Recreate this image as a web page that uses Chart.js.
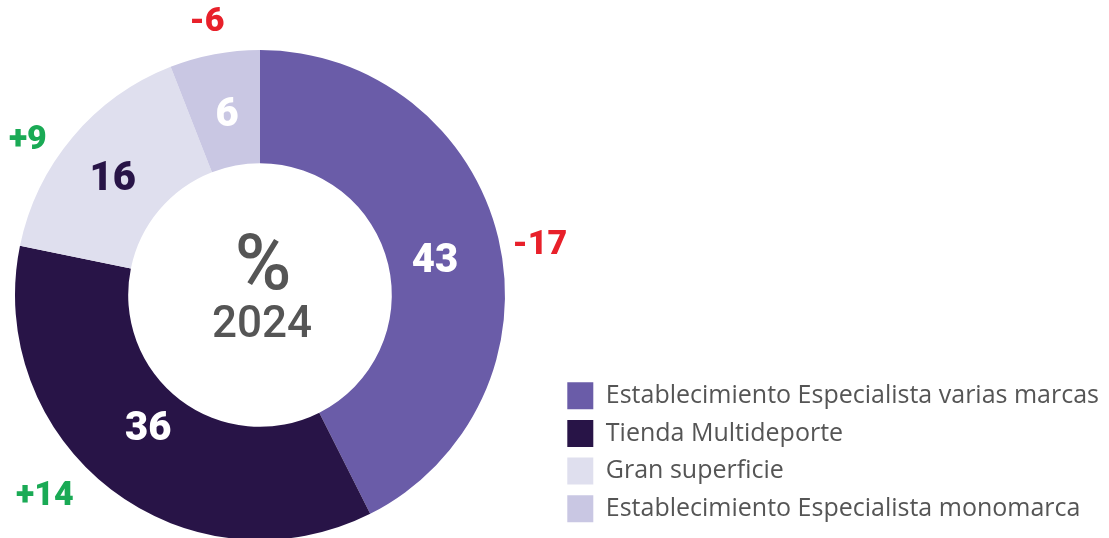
<!DOCTYPE html>
<html>
<head>
<meta charset="utf-8">
<script src="https://cdn.jsdelivr.net/npm/chart.js@4.4.1/dist/chart.umd.min.js"></script>
<style>
  html, body { margin: 0; padding: 0; background: #ffffff; }
  #wrap { width: 1109px; height: 538px; }
</style>
</head>
<body>
<div id="wrap"><canvas id="c" width="1109" height="538"></canvas></div>
<script>
// ---- data ----
const categories = [
  'Establecimiento Especialista varias marcas',
  'Tienda Multideporte',
  'Gran superficie',
  'Establecimiento Especialista monomarca'
];
const shares2024 = [43, 36, 16, 6];
const changeLabels = ['-17', '+14', '+9', '-6'];
const centerUnit = '%';
const centerYear = '2024';

// ---- styles ----
const sliceColors = ['#6a5ca8', '#281447', '#dfdfee', '#c9c7e3'];
const insideTextColors = ['#ffffff', '#ffffff', '#281447', '#ffffff'];
const changeColors = ['#e8202a', '#1aaa55', '#1aaa55', '#e8202a'];
// placement tweaks (radius factor of outer radius, angle shift in degrees)
const insidePlace = [[0.727, 2.7], [0.714, 2.3], [0.763, -2.1], [0.743, 0.3]];
const outsidePlace = [[1.16, 3.3], [1.204, 9.4], [1.139, -6.4], [1.135, -0.3]];

const doughnutArea = { left: 15, top: 50, right: 505, bottom: 540 };

const areaPlugin = {
  id: 'areaPlugin',
  afterLayout(chart) {
    const a = chart.chartArea;
    a.left = doughnutArea.left; a.top = doughnutArea.top;
    a.right = doughnutArea.right; a.bottom = doughnutArea.bottom;
    a.width = a.right - a.left; a.height = a.bottom - a.top;
  }
};

function polar(arc, rFactor, shiftDeg) {
  const mid = (arc.startAngle + arc.endAngle) / 2 + shiftDeg * Math.PI / 180;
  const r = arc.outerRadius * rFactor;
  return { x: arc.x + Math.cos(mid) * r, y: arc.y + Math.sin(mid) * r };
}

const labelPlugin = {
  id: 'labelPlugin',
  afterDatasetsDraw(chart) {
    const ctx = chart.ctx;
    const meta = chart.getDatasetMeta(0);
    ctx.save();
    ctx.textAlign = 'center';
    ctx.textBaseline = 'middle';
    meta.data.forEach((arc, i) => {
      const pIn = polar(arc, insidePlace[i][0], insidePlace[i][1]);
      ctx.font = '900 40px Roboto, "DejaVu Sans", sans-serif';
      ctx.fillStyle = insideTextColors[i];
      ctx.fillText(String(shares2024[i]), pIn.x, pIn.y);
      const pOut = polar(arc, outsidePlace[i][0], outsidePlace[i][1]);
      ctx.font = '900 34px Roboto, "DejaVu Sans", sans-serif';
      ctx.fillStyle = changeColors[i];
      ctx.fillText(changeLabels[i], pOut.x, pOut.y);
    });
    const cx = meta.data[0].x, cy = meta.data[0].y;
    ctx.fillStyle = '#555555';
    ctx.font = '500 77px Roboto, sans-serif';
    ctx.fillText(centerUnit, cx + 3, cy - 25);
    ctx.font = '500 44px Roboto, sans-serif';
    ctx.fillText(centerYear, cx + 2, cy + 31);
    ctx.restore();
  }
};

new Chart(document.getElementById('c'), {
  type: 'doughnut',
  data: {
    labels: categories,
    datasets: [{
      data: shares2024,
      backgroundColor: sliceColors,
      borderWidth: 0,
      hoverOffset: 0
    }]
  },
  options: {
    responsive: false,
    animation: false,
    cutout: '53.8%',
    rotation: 0,
    layout: { padding: { top: 0, right: 0, bottom: 5, left: 0 } },
    plugins: {
      tooltip: { enabled: false },
      legend: {
        position: 'right',
        align: 'end',
        labels: {
          boxWidth: 26,
          boxHeight: 27,
          padding: 10.7,
          color: '#555555',
          font: { family: '"Open Sans"', size: 25 }
        }
      }
    }
  },
  plugins: [areaPlugin, labelPlugin]
});
</script>
</body>
</html>
